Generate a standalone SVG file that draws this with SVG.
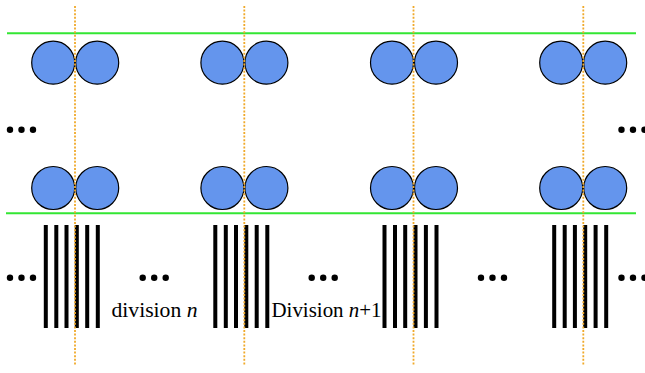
<svg xmlns="http://www.w3.org/2000/svg" width="645" height="373" viewBox="0 0 645 373">
<style>
.ball{fill:#6495ED;stroke:#000;stroke-width:1.2}
.green{stroke:#33e633;stroke-width:2}
.guide{stroke:#f0a92a;stroke-width:1.8;stroke-dasharray:2 1.6;fill:none}
.bar{fill:#000}
.dot{fill:#000}
.lbl{font-family:"Liberation Serif","Times New Roman",serif;font-size:21.5px;fill:#000}
</style>
<defs>
<g id="pair">
<circle class="ball" cx="-22" cy="0" r="21.5"/>
<circle class="ball" cx="22" cy="0" r="21.5"/>
</g>
<g id="bars">
<rect class="bar" x="-31" y="225" width="4" height="103"/>
<rect class="bar" x="-20.5" y="225" width="4" height="103"/>
<rect class="bar" x="-10.3" y="225" width="4" height="103"/>
<rect class="bar" x="0" y="225" width="4" height="103"/>
<rect class="bar" x="10.4" y="225" width="4" height="103"/>
<rect class="bar" x="21" y="225" width="4" height="103"/>
</g>
<g id="dots">
<circle class="dot" cx="0" cy="0" r="3.2"/>
<circle class="dot" cx="11.5" cy="0" r="3.2"/>
<circle class="dot" cx="23" cy="0" r="3.2"/>
</g>
</defs>
<g id="rails">
<line class="green" x1="7" y1="33.3" x2="636" y2="33.3"/>
<line class="green" x1="6" y1="213.3" x2="636" y2="213.3"/>
</g>
<g id="top-row">
<use href="#pair" x="75.2" y="62.7"/>
<use href="#pair" x="244.4" y="62.7"/>
<use href="#pair" x="414" y="62.7"/>
<use href="#pair" x="583.2" y="62.7"/>
</g>
<g id="bottom-row">
<use href="#pair" x="75.2" y="188"/>
<use href="#pair" x="244.4" y="188"/>
<use href="#pair" x="414" y="188"/>
<use href="#pair" x="583.2" y="188"/>
</g>
<g id="ellipses">
<use href="#dots" x="10" y="129.7"/>
<use href="#dots" x="621.5" y="129.7"/>
<use href="#dots" x="10" y="277.7"/>
<use href="#dots" x="142.7" y="277.7"/>
<use href="#dots" x="311.7" y="277.7"/>
<use href="#dots" x="481" y="277.7"/>
<use href="#dots" x="621.5" y="277.7"/>
</g>
<g id="divisions">
<use href="#bars" x="74.8" y="0"/>
<use href="#bars" x="244.3" y="0"/>
<use href="#bars" x="413.5" y="0"/>
<use href="#bars" x="583.2" y="0"/>
</g>
<g id="labels">
<text class="lbl" x="111.5" y="317.3" textLength="86" lengthAdjust="spacingAndGlyphs">division <tspan font-style="italic">n</tspan></text>
<text class="lbl" x="271.5" y="317.3" textLength="110" lengthAdjust="spacingAndGlyphs">Division <tspan font-style="italic">n</tspan>+1</text>
</g>
<g id="guides">
<line class="guide" x1="75" y1="6" x2="75" y2="366"/>
<line class="guide" x1="244.3" y1="6" x2="244.3" y2="366"/>
<line class="guide" x1="413.5" y1="6" x2="413.5" y2="366"/>
<line class="guide" x1="583.3" y1="6" x2="583.3" y2="366"/>
</g>
</svg>
